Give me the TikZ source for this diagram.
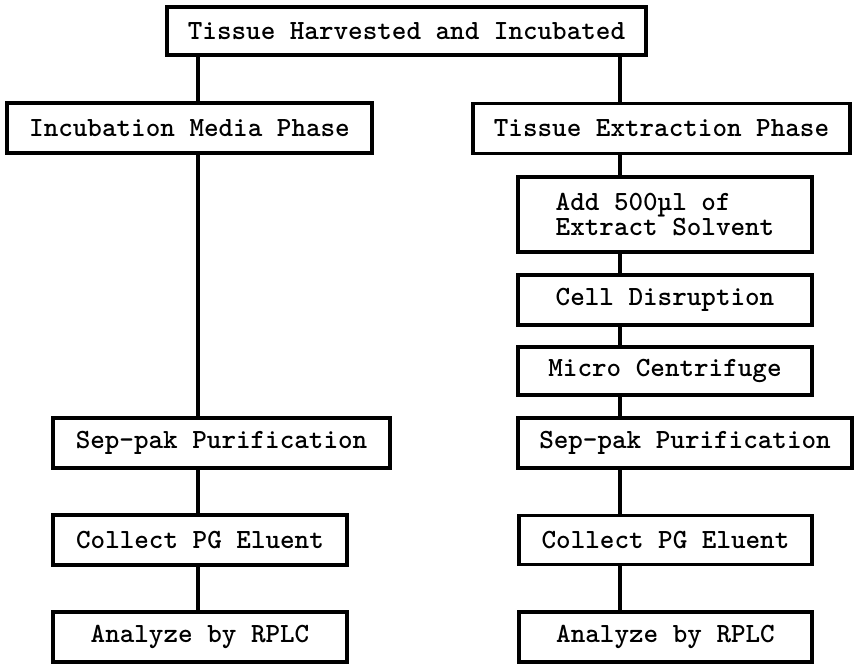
\documentclass[tikz,border=0pt]{standalone}
\begin{document}
\begin{tikzpicture}[x=0.02cm, y=-0.02cm,
    box/.style={rectangle, draw, line width=2pt, inner sep=0pt,
        font=\ttfamily\bfseries\fontsize{15.8}{14.5}\selectfont},
    link/.style={line width=1.8pt}]
    \useasboundingbox (0,0) rectangle (854,664);
    \coordinate (lcol) at (198,0);
    \coordinate (rcol) at (620,0);
    \node[box, minimum width=9.58cm, minimum height=0.96cm] (harvest) at (406.5,31) {Tissue Harvested and Incubated};
    \node[box, minimum width=7.3cm, minimum height=1cm] (media) at (189.5,128) {Incubation Media Phase};
    \node[box, minimum width=7.54cm, minimum height=1cm] (extract) at (661.5,128.5) {Tissue Extraction Phase};
    \node[box, minimum width=5.88cm, minimum height=1.5cm, align=left] (solvent) at (665,214.5) {Add 500µl of\\Extract Solvent};
    \node[box, minimum width=5.88cm, minimum height=1cm] (disrupt) at (665,300) {Cell Disruption};
    \node[box, minimum width=5.88cm, minimum height=0.96cm] (centri) at (665,371) {Micro Centrifuge};
    \node[box, minimum width=6.74cm, minimum height=1cm] (sepL) at (221.5,443) {Sep-pak Purification};
    \node[box, minimum width=5.88cm, minimum height=1cm] (collectL) at (200,540) {Collect PG Eluent};
    \node[box, minimum width=5.88cm, minimum height=1cm] (analyzeL) at (200,637) {Analyze by RPLC};
    \node[box, minimum width=6.68cm, minimum height=1cm] (sepR) at (685,443) {Sep-pak Purification};
    \node[box, minimum width=5.86cm, minimum height=0.98cm] (collectR) at (665.5,540) {Collect PG Eluent};
    \node[box, minimum width=5.86cm, minimum height=1cm] (analyzeR) at (665.5,637) {Analyze by RPLC};
    % left branch
    \draw[link] (harvest.south -| lcol) -- (media.north -| lcol);
    \draw[link] (media.south -| lcol) -- (sepL.north -| lcol);
    \draw[link] (sepL.south -| lcol) -- (collectL.north -| lcol);
    \draw[link] (collectL.south -| lcol) -- (analyzeL.north -| lcol);
    % right branch
    \draw[link] (harvest.south -| rcol) -- (extract.north -| rcol);
    \draw[link] (extract.south -| rcol) -- (solvent.north -| rcol);
    \draw[link] (solvent.south -| rcol) -- (disrupt.north -| rcol);
    \draw[link] (disrupt.south -| rcol) -- (centri.north -| rcol);
    \draw[link] (centri.south -| rcol) -- (sepR.north -| rcol);
    \draw[link] (sepR.south -| rcol) -- (collectR.north -| rcol);
    \draw[link] (collectR.south -| rcol) -- (analyzeR.north -| rcol);
\end{tikzpicture}
\end{document}
